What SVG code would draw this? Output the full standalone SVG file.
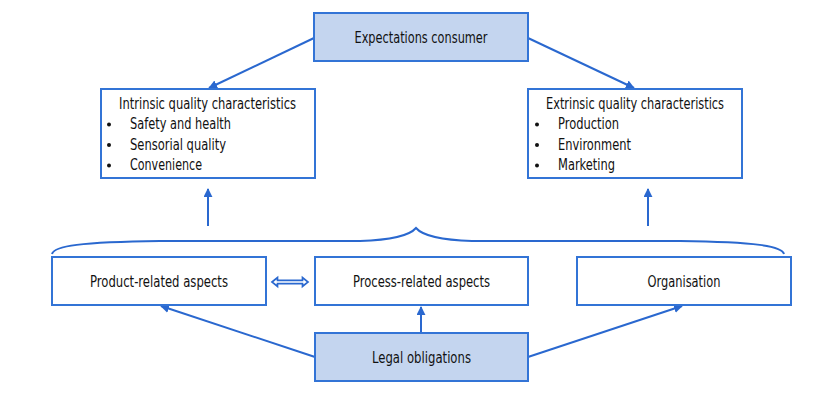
<svg xmlns="http://www.w3.org/2000/svg" width="813" height="405" viewBox="0 0 813 405">
<defs>
<style>
.box{fill:#ffffff;stroke:#3374d6;stroke-width:2}
.hl{fill:#c4d5ef;stroke:#3374d6;stroke-width:2}
.t{font-family:"Liberation Sans Narrow","DejaVu Sans Condensed","Liberation Sans",sans-serif;font-size:15px;fill:#111111;font-stretch:condensed}
.c{stroke:#2a68cf;stroke-width:2;fill:none}
.b{fill:#111111}
</style>
<marker id="ah" viewBox="0 0 10 10" refX="9" refY="5" markerWidth="4.5" markerHeight="4.5" orient="auto" markerUnits="strokeWidth">
<path d="M0,0 L10,5 L0,10 z" fill="#2a68cf"/>
</marker>
</defs>
<rect width="813" height="405" fill="#ffffff"/>
<g id="connectors">
<line class="c" x1="314" y1="38" x2="209" y2="88" marker-end="url(#ah)"/>
<line class="c" x1="528" y1="38" x2="634" y2="88" marker-end="url(#ah)"/>
<line class="c" x1="208" y1="226" x2="208" y2="189" marker-end="url(#ah)"/>
<line class="c" x1="648" y1="226" x2="648" y2="189" marker-end="url(#ah)"/>
<path class="c" d="M52,254 C54,246 80,242 160,241 L360,241 C392,240 410,235 416,228 C422,235 440,240 472,241 L680,241 C756,242 782,246 784,254"/>
<path d="M272,282 L277.5,277.5 L277.5,280.3 L302.5,280.3 L302.5,277.5 L308,282 L302.5,286.5 L302.5,283.7 L277.5,283.7 L277.5,286.5 Z" fill="#ffffff" stroke="#2a68cf" stroke-width="1.7" stroke-linejoin="miter"/>
<line class="c" x1="315" y1="357" x2="161" y2="306" marker-end="url(#ah)"/>
<line class="c" x1="421" y1="333" x2="421" y2="307" marker-end="url(#ah)"/>
<line class="c" x1="528" y1="357" x2="682" y2="306" marker-end="url(#ah)"/>
</g>
<g id="expectations">
<rect class="hl" x="314" y="13" width="214" height="48"/>
<text class="t" x="421" y="42.5" text-anchor="middle" textLength="133" lengthAdjust="spacingAndGlyphs">Expectations consumer</text>
</g>
<g id="intrinsic">
<rect class="box" x="101" y="89" width="214" height="89"/>
<text class="t" x="119" y="108.5" textLength="177" lengthAdjust="spacingAndGlyphs">Intrinsic quality characteristics</text>
<circle class="b" cx="109" cy="124.5" r="2"/>
<circle class="b" cx="109" cy="145" r="2"/>
<circle class="b" cx="109" cy="165.5" r="2"/>
<text class="t" x="130" y="129" textLength="101" lengthAdjust="spacingAndGlyphs">Safety and health</text>
<text class="t" x="130" y="149.5" textLength="96" lengthAdjust="spacingAndGlyphs">Sensorial quality</text>
<text class="t" x="130" y="170" textLength="72" lengthAdjust="spacingAndGlyphs">Convenience</text>
</g>
<g id="extrinsic">
<rect class="box" x="528" y="89" width="214" height="89"/>
<text class="t" x="546" y="108.5" textLength="178" lengthAdjust="spacingAndGlyphs">Extrinsic quality characteristics</text>
<circle class="b" cx="537" cy="124.5" r="2"/>
<circle class="b" cx="537" cy="145" r="2"/>
<circle class="b" cx="537" cy="165.5" r="2"/>
<text class="t" x="558" y="129" textLength="61" lengthAdjust="spacingAndGlyphs">Production</text>
<text class="t" x="558" y="149.5" textLength="73" lengthAdjust="spacingAndGlyphs">Environment</text>
<text class="t" x="558" y="170" textLength="57" lengthAdjust="spacingAndGlyphs">Marketing</text>
</g>
<g id="product">
<rect class="box" x="52" y="257" width="214" height="48"/>
<text class="t" x="159" y="287" text-anchor="middle" textLength="138" lengthAdjust="spacingAndGlyphs">Product-related aspects</text>
</g>
<g id="process">
<rect class="box" x="315" y="257" width="213" height="48"/>
<text class="t" x="421.5" y="287" text-anchor="middle" textLength="137" lengthAdjust="spacingAndGlyphs">Process-related aspects</text>
</g>
<g id="organisation">
<rect class="box" x="577" y="257" width="214" height="48"/>
<text class="t" x="684" y="287" text-anchor="middle" textLength="73" lengthAdjust="spacingAndGlyphs">Organisation</text>
</g>
<g id="legal">
<rect class="hl" x="315" y="333" width="213" height="48"/>
<text class="t" x="421.5" y="363" text-anchor="middle" textLength="99" lengthAdjust="spacingAndGlyphs">Legal obligations</text>
</g>
</svg>
